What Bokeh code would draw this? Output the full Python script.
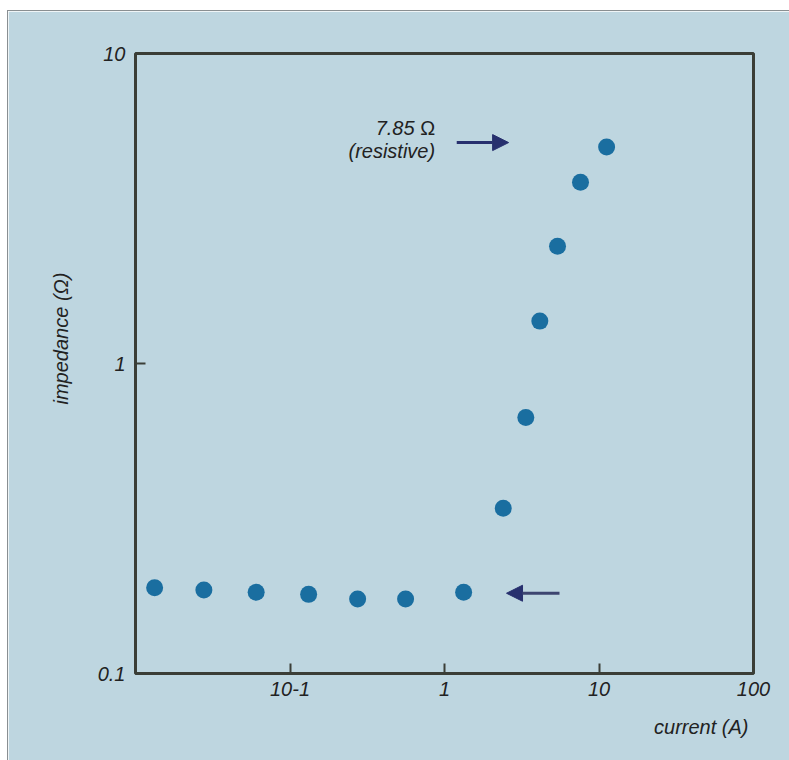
from bokeh.plotting import figure
from bokeh.models import FixedTicker, Label, Arrow, NormalHead, Title
from bokeh.embed import file_html
from bokeh.resources import INLINE

# ---- data ----
current_A = [0.0133, 0.0277, 0.0604, 0.132, 0.274, 0.560, 1.33,
             2.40, 3.36, 4.14, 5.39, 7.59, 11.2]
impedance_ohm = [0.189, 0.186, 0.183, 0.180, 0.174, 0.174, 0.183,
                 0.341, 0.670, 1.37, 2.39, 3.84, 4.99]
x_ticks = [0.1, 1, 10, 100]
x_tick_labels = ["10-1", "1", "10", "100"]
y_ticks = [0.1, 1, 10]
y_tick_labels = ["0.1", "1", "10"]

BG = "#bed6e0"
FRAME = "#3b3e37"
DOT = "#1a6ea0"
ARROW = "#27306e"
TXT = "#222222"
FONT = "Liberation Sans"
FS = "20px"

p = figure(width=782, height=750, x_axis_type="log", y_axis_type="log",
           x_range=(0.01, 100), y_range=(0.1, 10),
           output_backend="svg", toolbar_location=None,
           background_fill_color=BG, border_fill_color=BG,
           min_border_left=127, min_border_right=37,
           min_border_top=42, min_border_bottom=88)
p.margin = (10, 0, 0, 7)
p.styles = {"border-left": "1px solid #8a8f92", "border-top": "1px solid #8a8f92"}

p.outline_line_color = FRAME
p.outline_line_width = 3
p.outline_line_alpha = 1
p.grid.visible = False

for ax in (p.xaxis[0], p.yaxis[0]):
    ax.axis_line_color = None
    ax.major_tick_in = 10
    ax.major_tick_out = 0
    ax.major_tick_line_color = FRAME
    ax.major_tick_line_width = 2
    ax.minor_tick_line_color = None
    ax.major_label_text_font = FONT
    ax.major_label_text_font_style = "italic"
    ax.major_label_text_font_size = FS
    ax.major_label_text_color = TXT

p.xaxis[0].ticker = FixedTicker(ticks=x_ticks)
p.xaxis[0].major_label_overrides = {t: l for t, l in zip(x_ticks, x_tick_labels)}
p.xaxis[0].major_label_standoff = 8
p.yaxis[0].ticker = FixedTicker(ticks=y_ticks)
p.yaxis[0].major_label_overrides = {t: l for t, l in zip(y_ticks, y_tick_labels)}
p.yaxis[0].major_label_standoff = 10

p.scatter(current_A, impedance_ohm, size=17, color=DOT, line_color=None)

# annotation arrows
p.add_layout(Arrow(x_start=1.2, y_start=5.16, x_end=2.6, y_end=5.16,
                   line_color=ARROW, line_width=3,
                   end=NormalHead(size=16, fill_color=ARROW, line_color=ARROW)))
p.add_layout(Arrow(x_start=5.55, y_start=0.1815, x_end=2.52, y_end=0.1815,
                   line_color="#3d4570", line_width=3,
                   end=NormalHead(size=16, fill_color=ARROW, line_color=ARROW)))

p.add_layout(Label(x=0.64, y=5.73, text="7.85", text_align="right",
                   text_baseline="middle", text_font=FONT, text_font_style="italic",
                   text_font_size=FS, text_color=TXT))
p.add_layout(Label(x=0.87, y=5.73, text="Ω", text_align="right",
                   text_baseline="middle", text_font=FONT, text_font_style="normal",
                   text_font_size=FS, text_color=TXT))
p.add_layout(Label(x=0.87, y=4.86, text="(resistive)", text_align="right",
                   text_baseline="middle", text_font=FONT, text_font_style="italic",
                   text_font_size=FS, text_color=TXT))

# axis titles
p.add_layout(Title(text="current (A)", align="right", offset=5, standoff=30,
                   text_font=FONT, text_font_style="italic", text_font_size=FS,
                   text_color=TXT), "below")
p.add_layout(Title(text="impedance (Ω)", align="left", offset=269, standoff=45,
                   text_font=FONT, text_font_style="italic", text_font_size=FS,
                   text_color=TXT), "left")

open("out.html", "w").write(file_html(p, INLINE))
